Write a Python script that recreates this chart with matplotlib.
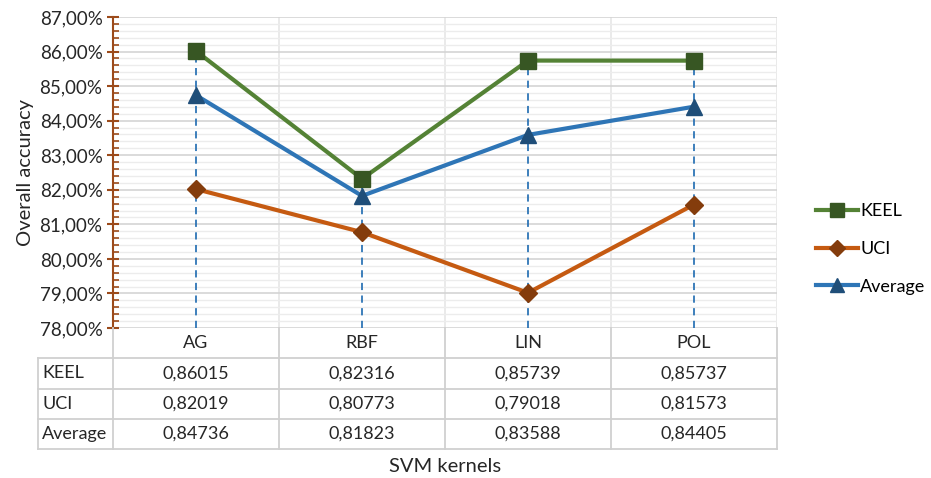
import matplotlib.pyplot as plt
from matplotlib.ticker import MultipleLocator, FuncFormatter
from matplotlib.lines import Line2D

plt.rcParams['font.family'] = ['Lato', 'DejaVu Sans']

kernels = ['AG', 'RBF', 'LIN', 'POL']
keel = [0.86015, 0.82316, 0.85739, 0.85737]
uci = [0.82019, 0.80773, 0.79018, 0.81573]
average = [0.84736, 0.81823, 0.83588, 0.84405]

series = [
    ('KEEL', keel, '#548235', '#375623', 's', 11),
    ('UCI', uci, '#C55A11', '#843C0C', 'D', 9),
    ('Average', average, '#2E75B6', '#1F4E79', '^', 11),
]

W, H = 931, 478
fig = plt.figure(figsize=(W / 100, H / 100), dpi=100)
fs = 13
txt = '#262626'

# main plot area, placed in pixels
left, right, top, bottom = 113, 777, 17, 328
ax = fig.add_axes([left / W, 1 - bottom / H, (right - left) / W, (bottom - top) / H])

x = list(range(len(kernels)))
ax.set_xlim(-0.5, len(kernels) - 0.5)
ax.set_ylim(0.78, 0.87)

# drop lines from the highest point to the axis floor
for i in x:
    hi = max(keel[i], uci[i], average[i])
    ax.plot([i, i], [0.78, hi], color='#2E75B6', lw=1.3, ls=(0, (4, 3)), zorder=2)

for name, vals, lc, mc, mk, ms in series:
    ax.plot(x, vals, color=lc, lw=3, marker=mk, markersize=ms,
            markerfacecolor=mc, markeredgecolor=mc, label=name, zorder=3)

ax.yaxis.set_major_locator(MultipleLocator(0.01))
ax.yaxis.set_minor_locator(MultipleLocator(0.002))
ax.yaxis.set_major_formatter(FuncFormatter(lambda v, p: f'{v * 100:.2f}%'.replace('.', ',')))
ax.grid(which='major', axis='y', color='#d4d4d4', lw=1.2)
ax.grid(which='minor', axis='y', color='#ececec', lw=1.0)
ax.set_axisbelow(True)

# category separators
for b in [0.5, 1.5, 2.5, 3.5]:
    ax.axvline(b, color='#e6e6e6', lw=1.2, zorder=0)
ax.set_xticks([])

for s in ['top', 'right', 'bottom']:
    ax.spines[s].set_visible(False)
ax.spines['left'].set_color('#9C4A1A')
ax.spines['left'].set_linewidth(1.5)
ax.tick_params(axis='y', which='major', direction='inout', length=9, width=1.5,
               color='#9C4A1A', labelsize=13.5, labelcolor=txt, pad=3)
ax.tick_params(axis='y', which='minor', direction='in', length=4, width=1.2, color='#9C4A1A')
ax.set_ylabel('Overall accuracy', fontsize=14.5, color=txt, labelpad=4)

# data table under the plot
tl, tb = 38, 449
tax = fig.add_axes([tl / W, 1 - tb / H, (right - tl) / W, (tb - bottom) / H])
unit = (right - left) / len(kernels)
x0 = -0.5 - (left - tl) / unit
tax.set_xlim(x0, len(kernels) - 0.5)
tax.set_ylim(4, 0)
tax.axis('off')

grid_c = '#d0d0d0'
for r in range(1, 5):
    tax.plot([x0, 3.5], [r, r], color=grid_c, lw=1.3, clip_on=False)
tax.plot([x0, x0], [1, 4], color=grid_c, lw=1.3, clip_on=False)
for b in [-0.5, 0.5, 1.5, 2.5, 3.5]:
    tax.plot([b, b], [0, 4], color=grid_c, lw=1.3, clip_on=False)

for i, k in enumerate(kernels):
    tax.text(i, 0.5, k, ha='center', va='center', fontsize=fs, color=txt)
for r, (name, vals, *_ ) in enumerate(series, start=1):
    tax.text(x0 + 0.025, r + 0.5, name, ha='left', va='center', fontsize=fs, color=txt)
    for i, v in enumerate(vals):
        tax.text(i, r + 0.5, f'{v:.5f}'.replace('.', ','), ha='center', va='center',
                 fontsize=fs, color=txt)

fig.text((left + right) / 2 / W, 1 - 466 / H, 'SVM kernels', ha='center', va='center',
         fontsize=14.5, color=txt)

handles = [Line2D([], [], color=lc, lw=3, marker=mk, markersize=ms - 1,
                  markerfacecolor=mc, markeredgecolor=mc)
           for _, _, lc, mc, mk, ms in series]
fig.legend(handles, [s[0] for s in series], loc='center left',
           bbox_to_anchor=(807 / W, 1 - 249 / H), frameon=False, fontsize=fs,
           handlelength=2.3, handletextpad=0.15, labelspacing=1.2, borderpad=0)

fig.savefig('out.png', dpi=100)
